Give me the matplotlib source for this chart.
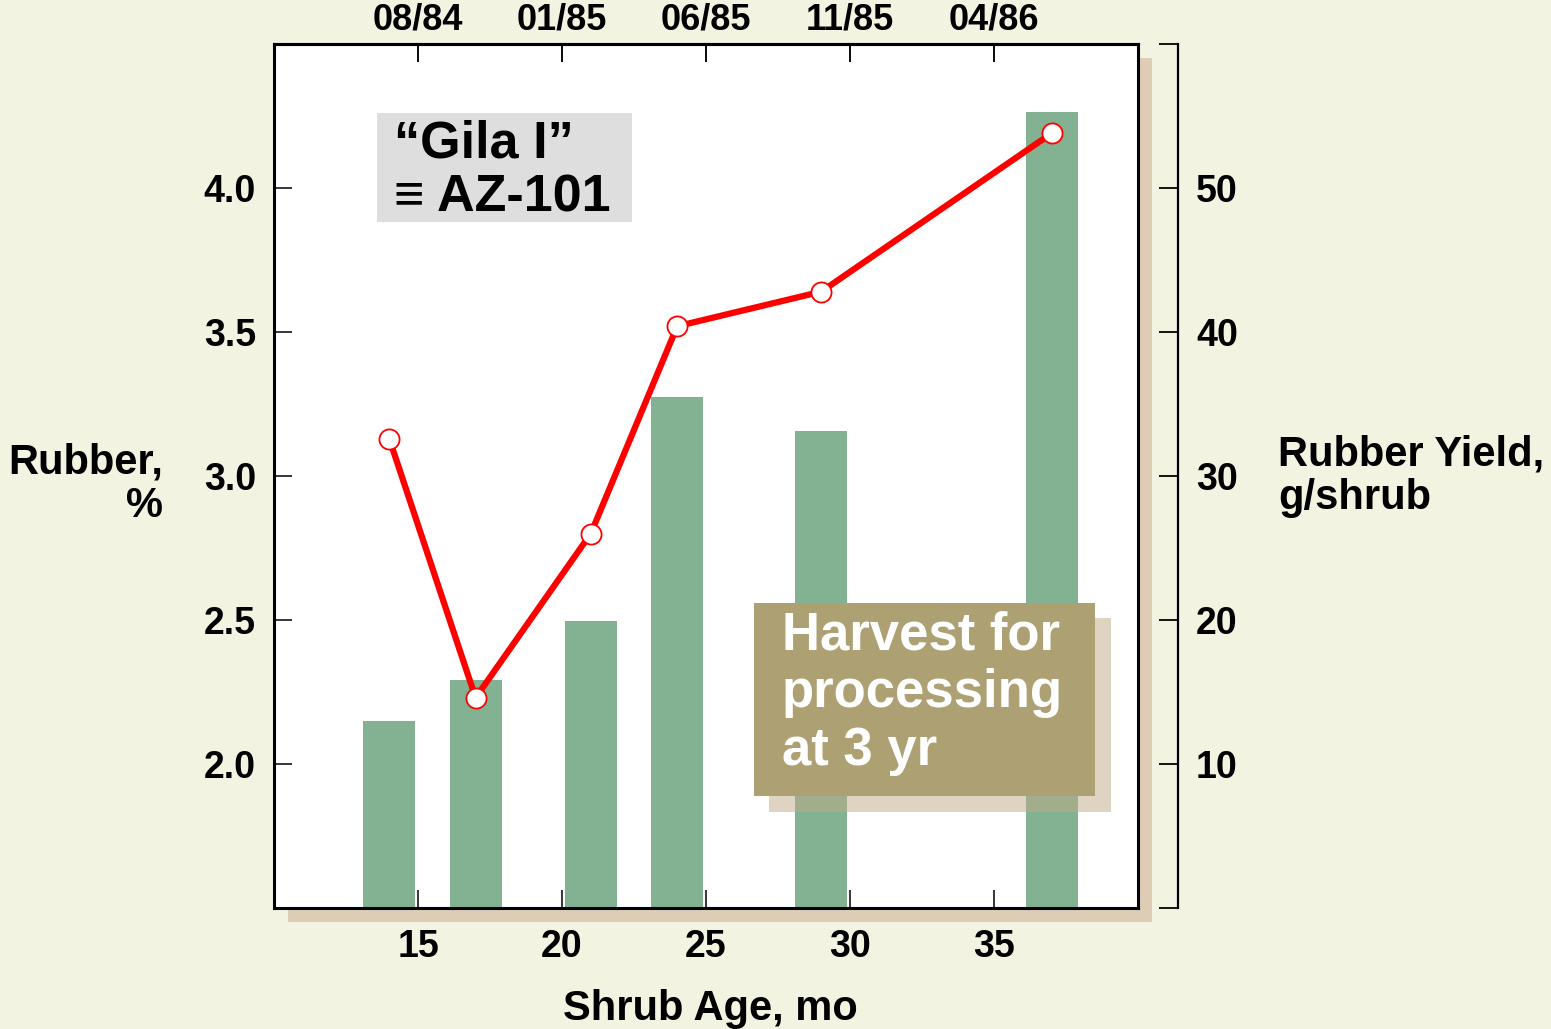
import matplotlib
matplotlib.use("Agg")
import matplotlib.pyplot as plt
from matplotlib.patches import Rectangle

# ---- data ----
age_mo = [14, 17, 21, 24, 29, 37]
rubber_pct = [3.13, 2.23, 2.80, 3.52, 3.64, 4.19]
yield_g = [13.0, 15.8, 19.9, 35.5, 33.1, 55.3]
x_ticks = [15, 20, 25, 30, 35]
top_labels = ["08/84", "01/85", "06/85", "11/85", "04/86"]
left_ticks = [2.0, 2.5, 3.0, 3.5, 4.0]
right_ticks = [0, 10, 20, 30, 40, 50, 60]
right_labels = ["", "10", "20", "30", "40", "50", ""]

BG = "#F3F3E2"
W, H = 1551, 1029
plt.rcParams['font.family'] = ['Liberation Sans', 'DejaVu Sans']
plt.rcParams['font.weight'] = 'bold'

fig = plt.figure(figsize=(W / 100, H / 100), dpi=100, facecolor=BG)


def fx(px):
    return px / W


def fy(py):
    return 1 - py / H


L, R, T, B = 274, 1138, 44, 908
# plot-area shadow
fig.add_artist(Rectangle((fx(L + 14), fy(B + 14)), fx(R - L), (B - T) / H,
                         transform=fig.transFigure, facecolor="#DCCDB4",
                         edgecolor="none", zorder=-5))

ax = fig.add_axes([fx(L), fy(B), fx(R - L), (B - T) / H])
ax2 = ax.twinx()
ax.set_zorder(2)
ax2.set_zorder(1)
ax.patch.set_visible(False)
ax2.patch.set_visible(True)
ax2.patch.set_facecolor("white")

ax.set_xlim(10, 40)
ax.set_ylim(1.5, 4.5)
ax2.set_ylim(0, 60)

# bars (yield) on right axis
ax2.bar(age_mo, yield_g, width=1.8, color="#82B292", zorder=2)

# line (rubber %) on left axis
ax.plot(age_mo, rubber_pct, color="#FF0000", lw=4.5, zorder=3,
        marker="o", markersize=14.5, markerfacecolor="white",
        markeredgecolor="#FF0000", markeredgewidth=1.3)

# spines
for s in ["left", "bottom", "top"]:
    ax.spines[s].set_linewidth(2.2)
ax.spines["right"].set_visible(False)
for s in ["left", "bottom", "top"]:
    ax2.spines[s].set_visible(False)
ax2.spines["right"].set_position(("outward", 28.8))
ax2.spines["right"].set_linewidth(1.6)
ax.plot([1, 1], [0, 1], transform=ax.transAxes, color="black", lw=2.2,
        clip_on=False, zorder=5, solid_capstyle="projecting")

ax.set_xticks(x_ticks)
ax.set_xticklabels([str(v) for v in x_ticks])
ax.set_yticks(left_ticks)
ax.set_yticklabels([f"{v:.1f}" for v in left_ticks])
ax.tick_params(axis="both", direction="in", length=13, width=1.1,
               labelsize=27)
ax.tick_params(axis="x", pad=15, top=True)
ax.tick_params(axis="y", pad=13)

secx = ax.secondary_xaxis("top")
secx.set_xticks(x_ticks)
secx.set_xticklabels(top_labels)
secx.tick_params(direction="in", length=13, width=1.1, labelsize=26, pad=5)
secx.spines["top"].set_linewidth(2.2)

ax2.set_yticks(right_ticks)
ax2.set_yticklabels(right_labels)
ax2.tick_params(axis="y", direction="in", length=14, width=1.3,
                labelsize=27, pad=13)

for lab in ax.get_xticklabels() + ax.get_yticklabels() + ax2.get_yticklabels() + secx.get_xticklabels():
    lab.set_fontweight("bold")

# axis labels
fig.text(fx(163), fy(484), "Rubber,\n%", ha="right", va="center",
         multialignment="right", fontsize=30, fontweight="bold",
         linespacing=1.1)
fig.text(fx(1278), fy(476), "Rubber Yield,\ng/shrub", ha="left",
         va="center", multialignment="left", fontsize=30,
         fontweight="bold", linespacing=1.1)
fig.text(fx(710), fy(1009), "Shrub Age, mo", ha="center", va="center",
         fontsize=30, fontweight="bold")

# Gila box
fig.add_artist(Rectangle((fx(377), fy(222)), fx(632 - 377), (222 - 113) / H,
                         transform=fig.transFigure, facecolor="#DEDEDE",
                         edgecolor="none", zorder=3))
fig.text(fx(394), fy(158), "\u201cGila I\u201d", ha="left", va="baseline",
         fontsize=37.5, fontweight="bold", zorder=4)
fig.text(fx(394), fy(212), "\u2261 AZ-101", ha="left", va="baseline",
         fontsize=37.5, fontweight="bold", zorder=4)

# Harvest box with shadow
fig.add_artist(Rectangle((fx(769), fy(812)), fx(1111 - 769), (812 - 618) / H,
                         transform=fig.transFigure, facecolor="#C1A985",
                         alpha=0.5, edgecolor="none", zorder=3))
fig.add_artist(Rectangle((fx(754), fy(796)), fx(1095 - 754), (796 - 603) / H,
                         transform=fig.transFigure, facecolor="#ADA072",
                         edgecolor="none", zorder=3.5))
for txt, base in [("Harvest for", 649), ("processing", 707), ("at 3 yr", 765)]:
    fig.text(fx(782), fy(base), txt, ha="left", va="baseline", fontsize=38,
             fontweight="bold", color="white", zorder=4)

fig.savefig("out.png", dpi=100, facecolor=BG)
